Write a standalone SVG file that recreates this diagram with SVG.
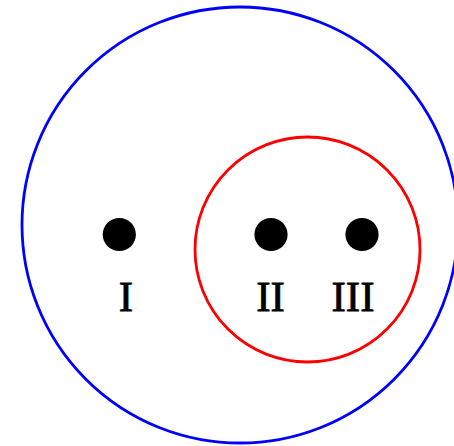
<svg xmlns="http://www.w3.org/2000/svg" width="454" height="446" viewBox="0 0 454 446">
<style>
.ring{fill:none;stroke-width:2.8}
.dot{fill:#000}
.lbl{font-family:"Liberation Serif","Times New Roman",serif;font-size:43px;text-anchor:middle;fill:#000;stroke:#000;stroke-width:0.8}
</style>
<rect width="454" height="446" fill="#fff"/>
<g id="setA"><circle class="ring" cx="240" cy="225" r="218" stroke="#0000ff"/></g>
<g id="setB"><circle class="ring" cx="307.5" cy="249.5" r="112.5" stroke="#ff0000"/></g>
<g id="connectors"></g>
<g id="nodeI"><circle class="dot" cx="119.3" cy="234.5" r="16.6"/><text class="lbl" x="126" y="311">I</text></g>
<g id="nodeII"><circle class="dot" cx="271" cy="234.5" r="16.6"/><text class="lbl" x="270.5" y="311">II</text></g>
<g id="nodeIII"><circle class="dot" cx="362" cy="234.5" r="16.6"/><text class="lbl" x="353" y="311">III</text></g>
</svg>
